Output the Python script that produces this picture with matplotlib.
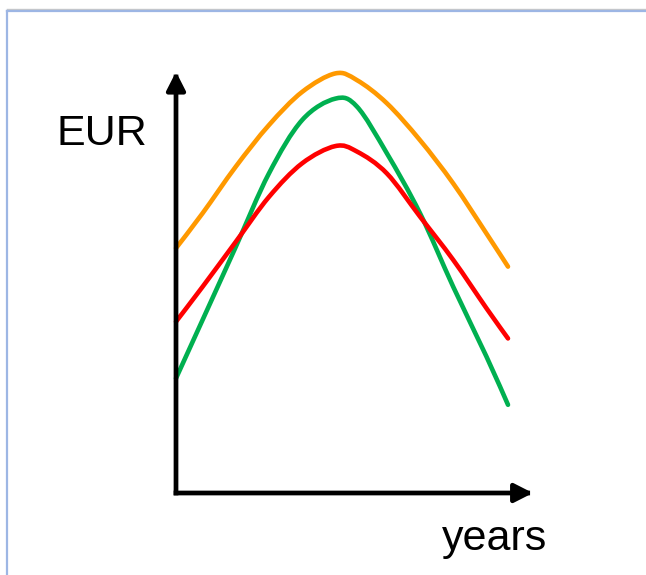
import matplotlib
matplotlib.use("Agg")
import matplotlib.pyplot as plt
from matplotlib.lines import Line2D
from matplotlib.patches import ArrowStyle, PathPatch
from matplotlib.path import Path

plt.rcParams['font.family'] = ['Liberation Sans', 'DejaVu Sans']

# Data (years vs EUR)
years = [0, 0.8, 1.8, 2.8, 3.8, 4.8, 5.45, 6.35, 7.35, 8.35, 9.35, 10]
orange_vals = [58.3, 66.6, 77.7, 87.6, 95.5, 99.9, 98.3, 92.8, 84.0, 73.7, 61.8, 53.9]
red_vals = [40.8, 49.1, 59.8, 70.5, 78.5, 82.6, 81.3, 76.1, 65.8, 55.5, 44.0, 36.8]
green_vals = [27.3, 41.2, 58.6, 76.1, 88.8, 93.9, 92.0, 80.9, 66.6, 49.1, 32.5, 21.0]

series = [
    (orange_vals, '#FF9900'),
    (green_vals, '#00B050'),
    (red_vals, '#FF0000'),
]


def smooth_path(xs, ys):
    """Bezier path passing through every data point (Catmull-Rom handles)."""
    pts = list(zip(xs, ys))
    n = len(pts)
    verts = [pts[0]]
    codes = [Path.MOVETO]
    for i in range(n - 1):
        p0 = pts[i - 1] if i > 0 else pts[i]
        p1 = pts[i]
        p2 = pts[i + 1]
        p3 = pts[i + 2] if i + 2 < n else pts[i + 1]
        c1 = (p1[0] + (p2[0] - p0[0]) / 6, p1[1] + (p2[1] - p0[1]) / 6)
        c2 = (p2[0] - (p3[0] - p1[0]) / 6, p2[1] - (p3[1] - p1[1]) / 6)
        verts += [c1, c2, p2]
        codes += [Path.CURVE4] * 3
    return Path(verts, codes)


W, H = 646, 575
fig = plt.figure(figsize=(W / 100, H / 100), dpi=100)
fig.patch.set_facecolor('white')

ax = fig.add_axes([176 / W, (H - 493) / H, 332 / W, 420 / H])
ax.set_xlim(0, 10)
ax.set_ylim(0, 100)
ax.axis('off')

for vals, col in series:
    patch = PathPatch(smooth_path(years, vals), facecolor='none', edgecolor=col,
                      lw=3.3, capstyle='round', joinstyle='round', clip_on=False)
    ax.add_patch(patch)

style = ArrowStyle('-|>', head_length=0.55, head_width=0.28)
for tip in [(0, 100.3), (10.75, 0)]:
    ax.annotate('', xy=tip, xytext=(0, 0),
                arrowprops=dict(arrowstyle=style, lw=3.4, color='black',
                                mutation_scale=20, shrinkA=0, shrinkB=0,
                                capstyle='projecting'),
                annotation_clip=False)

fig.text(102 / W, 1 - 145 / H, 'EUR', fontsize=31, ha='center', va='baseline', color='black')
fig.text(495 / W, 1 - 550 / H, 'years', fontsize=31, ha='center', va='baseline', color='black')

# Light blue frame (top and left edges visible)
fig.add_artist(Line2D([7 / W, 1.0], [1 - 9 / H, 1 - 9 / H], color='#C8C8C8', lw=1.0,
                      transform=fig.transFigure))
fig.add_artist(Line2D([7 / W, 1.0], [1 - 11 / H, 1 - 11 / H], color='#9DB6E4', lw=1.6,
                      transform=fig.transFigure))
fig.add_artist(Line2D([7 / W, 7 / W], [0.0, 1 - 11 / H], color='#9DB6E4', lw=1.6,
                      transform=fig.transFigure))

fig.savefig('out.png', dpi=100, facecolor='white')
